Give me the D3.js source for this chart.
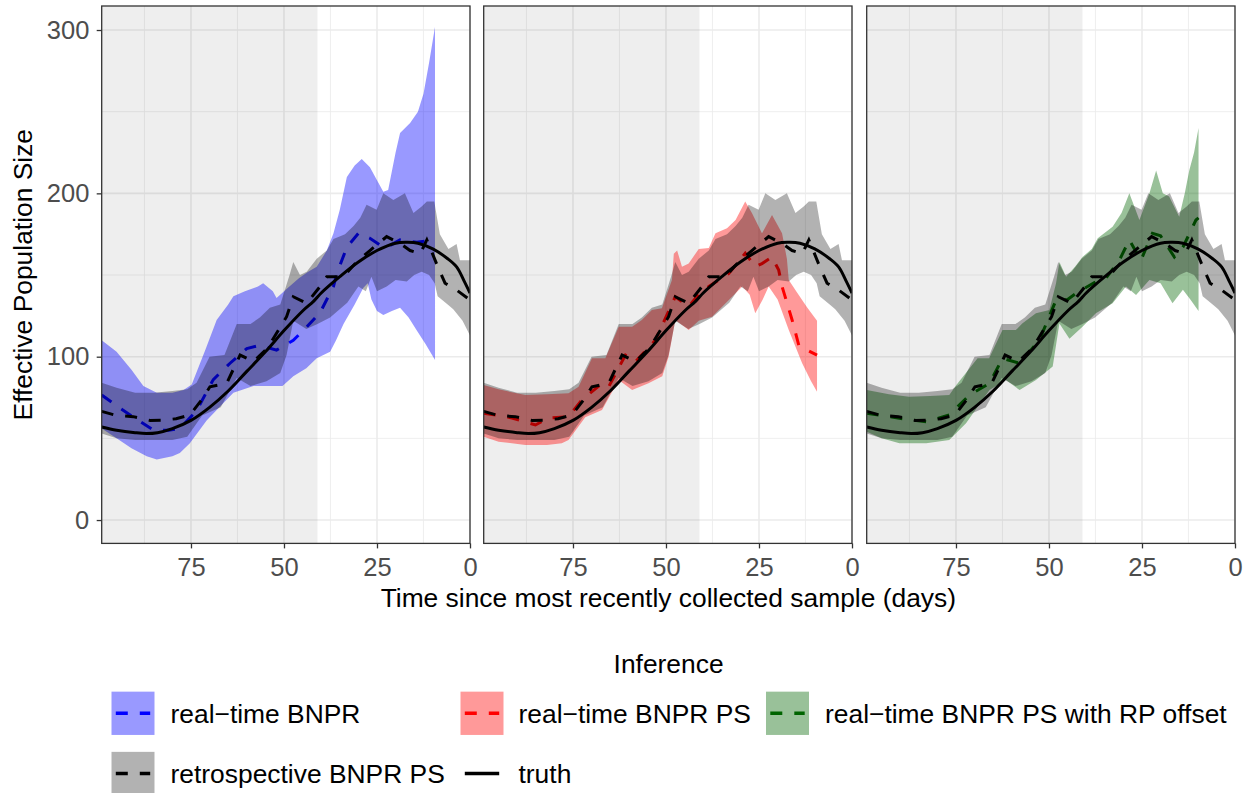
<!DOCTYPE html>
<html>
<head>
<meta charset="utf-8">
<script src="https://cdn.jsdelivr.net/npm/d3@7"></script>
<style>
  body { margin: 0; background: #fff; }
  svg { display: block; font-family: "Liberation Sans", Arial, sans-serif; }
</style>
</head>
<body>
<svg width="1252" height="793"></svg>
<script>
// ---- data: [days before last sample, effective population size] ----
const truth = [[99,57],[95,55],[90,53.5],[87,53],[84,53.5],[80,56],[75,61],[70,69],[65,79],[60,91],[55,103],[50,116],[45,128],[42,134],[40,139],[35,149],[30,158],[25,165],[20,169.5],[17,170],[14,169.5],[10,166],[6,160],[3.6,155],[1.5,146],[0,139]];

const retroMed = [[99,66.5],[95,64],[90.5,63.3],[86,61],[82.4,61.2],[79,62],[75.3,64.3],[72,74],[69.9,81.6],[65.4,83.7],[61.8,101],[58.2,97],[55,104],[52.9,111],[49.3,124.5],[47.5,136.7],[43.9,132.7],[40.3,143],[38.5,149],[34,149],[30.5,158],[26.9,165],[22.4,173.5],[18.8,169.4],[16.1,165],[13.4,163],[11.6,171.5],[9,157],[6.7,145],[3.6,140.8],[0,134.7]];
const retroUp = [[99,84],[95,81],[90,78],[85,78],[80,79],[76,80],[73.5,84],[70,100],[66,101],[62.7,120],[59,120],[56.5,124],[53.8,130],[51,132],[48.5,150],[47.5,158],[45.7,150],[43.9,152],[41.2,160],[38.5,165],[36.7,172],[33.6,175],[31.3,180],[29.5,185],[27.8,193],[25.1,190],[23.3,200],[20.6,196],[17.5,200],[15.2,188],[13,192],[11.6,195],[9.6,195],[8.1,175],[5.8,166],[3.6,169],[2.7,159],[0,159]];
const retroLo = [[99,53],[95,50],[90,49],[85,49],[80,49],[76,51],[72,64],[67,69],[62.7,87],[59,82],[54.7,85],[51,90],[49.3,101],[47.5,122],[44,117],[41,120],[37.6,124],[33,133],[30,143],[28,140],[26.5,149],[25,140],[22.4,143],[20,147],[17,146],[15,150],[13,152],[11,150],[9.5,145],[8.7,137],[6,132],[4.5,129],[2,122],[0,113]];

const blueMed = [[99,76.5],[95,70],[90.5,63],[85,55],[81,55],[78,56],[73.5,67],[69,86],[64.5,96],[60,105],[56.5,107],[52,104],[47.5,110],[44,118],[40.3,127],[36.7,143],[35.8,151],[33.1,167],[30,175.5],[26.9,172.5],[24,168],[22.4,167],[18.8,171.5],[14.3,170],[9.4,171.5]];
const blueUp = [[99,110],[95,103],[91,92],[87.8,82],[84.2,78],[80,78],[77,79.6],[74.8,83],[71,105],[68.1,122.5],[65,132],[63.6,137],[60.5,140],[57,143],[55.6,145],[53,140],[52,136],[49,142],[46,148],[43.5,152],[41.2,155],[38.5,165],[36.7,175.5],[35,190],[33.1,210],[31,217],[29.1,221],[26.9,216],[25,208],[23.3,201],[22,202],[20,225],[18.8,237],[16.1,243],[14,250],[12.5,261],[11,280],[9.4,302]];
const blueLo = [[99,56],[95,50],[91,44],[86.9,39],[84.2,37],[80,39],[78,41],[75.3,47],[70.8,61],[67,70],[63.6,78],[58.2,82],[54.6,82],[50.4,82],[47.5,88],[44,93],[41.2,99],[37.6,103],[36,110],[34,120],[31,132],[28.7,142],[27.5,145],[26.5,135],[25,128],[23.3,125.5],[21,128],[18.8,130],[16.5,124],[14.3,116],[12,108],[9.4,98]];

const redMed = [[99,65.3],[95,64],[91.4,62.5],[85.1,58.2],[81.5,62.5],[76.2,63.3],[72.6,73.5],[67.2,83.7],[65.4,81.6],[60.9,101],[58.2,97],[52.9,110],[47.5,136.7],[43.9,130.6],[40.3,140.8],[38.5,142.9],[33.1,151],[28.7,163.3],[26,155],[24.2,157],[21.5,161],[19.7,153],[18.8,143],[16.1,122.5],[14.3,107],[12,104],[9.4,101]];
const redUp = [[99,82.7],[95,80],[87.8,76.5],[82,77],[76.2,77.6],[73.5,81.6],[69.9,99],[66.3,99],[62.7,118.4],[59.1,118.4],[56.5,122.5],[53.8,128.6],[51.1,129.6],[48.4,147],[47.9,163],[47,165],[45.7,155],[43.9,157],[41.2,166],[38.5,166.6],[36.7,175.5],[33.6,178.6],[31.3,183.7],[28.7,195],[26.9,188],[24.2,175.5],[21.5,186.8],[18.8,175.5],[17.5,160],[17,147],[15,140],[12,130],[9.4,122]];
const redLo = [[99,51],[95,48],[87.8,46],[82,46],[78,47],[76.2,49],[71.7,63],[67.2,67.4],[62.7,85.7],[59.1,79.6],[54.7,83.7],[51,88],[49.3,100],[47.5,122.5],[43.9,116.3],[41.2,122],[37.6,124.5],[33.1,134.7],[29.5,142.9],[27.5,138],[26,126.6],[24,135],[22.4,143],[20,135],[17,116.3],[13.4,96],[11,85],[9.4,78.6]];

const greenMed = [[99,65.3],[95,64],[90.2,62.3],[83,60.2],[76.8,64.3],[71.4,76.5],[66,83.7],[62.5,99],[57.9,96],[52.6,110],[48.1,134.7],[45,135],[42.7,138.8],[36.6,147],[34.7,148],[31.1,159],[28.4,171.5],[25.3,159],[22.2,175.5],[20,174],[16.3,161],[14,167],[10.5,183.7],[9.8,185]];
const greenUp = [[99,79.6],[93,77],[87.6,75.5],[82,76],[76.8,76.5],[74.9,82.7],[69.2,99],[66.1,99],[62.5,116.3],[58.9,116.3],[57.2,120.4],[53.5,126.6],[49.9,128.6],[48.1,145],[47.2,158],[45.4,149],[43,155],[41,161],[38.5,166],[36.9,172.5],[32.9,179.6],[30.5,188],[28.4,200],[25.7,183.7],[23,200],[21.2,214],[19.4,200],[17.7,198],[15,185.7],[13.5,200],[12.3,214],[11,225],[9.8,240]];
const greenLo = [[99,54],[95,50],[90.2,47],[83,47],[76.8,49],[72.3,59.2],[66,79.6],[61.6,85.7],[57.9,79.6],[53.5,85.7],[49,94],[47.2,120.4],[44.5,111],[41,118.4],[37.4,126.6],[32.9,132.7],[29.3,142.9],[26.6,137.8],[23,147],[20,145],[16.8,132.7],[14,141],[12,135],[9.8,128]];

const shadeFrom = 99, shadeTo = 41;   // grey shaded window
const xTicks = [75, 50, 25, 0];
const yTicks = [0, 100, 200, 300];
const xMinor = [87.5, 62.5, 37.5, 12.5];
const yMinor = [50, 150, 250];

const panels = [
  { line: "blue", fill: "blue", med: blueMed, up: blueUp, lo: blueLo },
  { line: "red", fill: "red", med: redMed, up: redUp, lo: redLo },
  { line: "darkgreen", fill: "darkgreen", med: greenMed, up: greenUp, lo: greenLo }
];

const legendItems = [
  { label: "real\u2212time BNPR", fill: "blue", line: "blue", dash: true, col: 0, row: 0 },
  { label: "real\u2212time BNPR PS", fill: "red", line: "red", dash: true, col: 1, row: 0 },
  { label: "real\u2212time BNPR PS with RP offset", fill: "darkgreen", line: "darkgreen", dash: true, col: 2, row: 0 },
  { label: "retrospective BNPR PS", fill: "black", line: "black", dash: true, col: 0, row: 1, alpha: 0.3 },
  { label: "truth", fill: null, line: "black", dash: false, col: 1, row: 1 }
];

// ---- layout ----
const svg = d3.select("svg");
const top_ = 6, bottom_ = 543.4;
const panelLeft = [101.7, 483.7, 866.7];
const panelW = 368.3;
const y = d3.scaleLinear([-14.3, 314.7], [bottom_, top_]);
const lw = 3;
const dash = "12,12";

const defs = svg.append("defs");

panels.forEach((p, i) => {
  const x0 = panelLeft[i];
  const x = d3.scaleLinear([99, 0], [x0, x0 + panelW]);
  const g = svg.append("g");

  defs.append("clipPath").attr("id", `clip${i}`)
    .append("rect").attr("x", x0).attr("y", top_).attr("width", panelW).attr("height", bottom_ - top_);

  // grid
  g.selectAll(".ymin").data(yMinor).join("line")
    .attr("x1", x0).attr("x2", x0 + panelW).attr("y1", d => y(d)).attr("y2", d => y(d))
    .attr("stroke", "#ebebeb").attr("stroke-width", 0.8);
  g.selectAll(".xmin").data(xMinor).join("line")
    .attr("x1", d => x(d)).attr("x2", d => x(d)).attr("y1", top_).attr("y2", bottom_)
    .attr("stroke", "#ebebeb").attr("stroke-width", 0.8);
  g.selectAll(".ymaj").data(yTicks).join("line")
    .attr("x1", x0).attr("x2", x0 + panelW).attr("y1", d => y(d)).attr("y2", d => y(d))
    .attr("stroke", "#ebebeb").attr("stroke-width", 1.6);
  g.selectAll(".xmaj").data(xTicks).join("line")
    .attr("x1", d => x(d)).attr("x2", d => x(d)).attr("y1", top_).attr("y2", bottom_)
    .attr("stroke", "#ebebeb").attr("stroke-width", 1.6);

  const plot = g.append("g").attr("clip-path", `url(#clip${i})`);

  plot.append("rect")
    .attr("x", x(shadeFrom)).attr("y", top_)
    .attr("width", x(shadeTo) - x(shadeFrom)).attr("height", bottom_ - top_)
    .attr("fill", "#000").attr("fill-opacity", 0.066);

  const line = d3.line().x(d => x(d[0])).y(d => y(d[1]));
  const band = (up, lo) => line(up.concat(lo.slice().reverse())) + "Z";

  plot.append("path").attr("d", band(p.up, p.lo))
    .attr("fill", p.fill).attr("fill-opacity", 0.4);
  plot.append("path").attr("d", line(p.med))
    .attr("fill", "none").attr("stroke", p.line).attr("stroke-width", lw).attr("stroke-dasharray", dash);

  plot.append("path").attr("d", band(retroUp, retroLo))
    .attr("fill", "#000").attr("fill-opacity", 0.3);
  plot.append("path").attr("d", line(retroMed))
    .attr("fill", "none").attr("stroke", "#000").attr("stroke-width", lw).attr("stroke-dasharray", dash);

  plot.append("path").attr("d", line.curve(d3.curveCatmullRom)(truth))
    .attr("fill", "none").attr("stroke", "#000").attr("stroke-width", lw);

  // border
  g.append("rect").attr("x", x0).attr("y", top_).attr("width", panelW).attr("height", bottom_ - top_)
    .attr("fill", "none").attr("stroke", "#333").attr("stroke-width", 1.3);

  // x axis
  const ax = g.append("g").attr("transform", `translate(0,${bottom_})`)
    .call(d3.axisBottom(x).tickValues(xTicks).tickSize(5).tickPadding(10).tickFormat(d3.format("d")));
  ax.select(".domain").remove();
  ax.selectAll("line").attr("stroke", "#333").attr("stroke-width", 1.3);
  ax.selectAll("text").attr("fill", "#4d4d4d").attr("font-size", 25.5).attr("font-family", "Liberation Sans, Arial, sans-serif");

  if (i === 0) {
    const ay = g.append("g").attr("transform", `translate(${x0},0)`)
      .call(d3.axisLeft(y).tickValues(yTicks).tickSize(5).tickPadding(7.4).tickFormat(d3.format("d")));
    ay.select(".domain").remove();
    ay.selectAll("line").attr("stroke", "#333").attr("stroke-width", 1.3);
    ay.selectAll("text").attr("fill", "#4d4d4d").attr("font-size", 25.5).attr("font-family", "Liberation Sans, Arial, sans-serif");
  }
});

// axis titles
svg.append("text")
  .attr("transform", `translate(32,${(top_ + bottom_) / 2}) rotate(-90)`)
  .attr("text-anchor", "middle").attr("font-size", 26.4).attr("fill", "#000")
  .text("Effective Population Size");
svg.append("text")
  .attr("x", (panelLeft[0] + panelLeft[2] + panelW) / 2).attr("y", 607)
  .attr("text-anchor", "middle").attr("font-size", 26.4).attr("fill", "#000")
  .text("Time since most recently collected sample (days)");

// legend
const legend = svg.append("g");
legend.append("text")
  .attr("x", 668.6).attr("y", 673).attr("text-anchor", "middle")
  .attr("font-size", 26.4).attr("fill", "#000").text("Inference");

const keyX = [111.5, 460.5, 766];
const labelX = [170.5, 518.5, 825];
const rowMid = [713.3, 773.5];
const keyW = 43, keyH = 43.3;

legendItems.forEach(it => {
  const kx = keyX[it.col], cy = rowMid[it.row];
  const k = legend.append("g");
  if (it.fill) {
    k.append("rect").attr("x", kx).attr("y", cy - keyH / 2).attr("width", keyW).attr("height", keyH)
      .attr("fill", it.fill).attr("fill-opacity", it.alpha || 0.4);
  }
  k.append("line").attr("x1", kx + keyW * 0.1).attr("x2", kx + keyW * 0.9).attr("y1", cy).attr("y2", cy)
    .attr("stroke", it.line).attr("stroke-width", lw + 0.4)
    .attr("stroke-dasharray", it.dash ? dash : null);
  legend.append("text").attr("x", labelX[it.col]).attr("y", cy + 9.5)
    .attr("font-size", 26.4).attr("fill", "#000").text(it.label);
});
</script>
</body>
</html>
